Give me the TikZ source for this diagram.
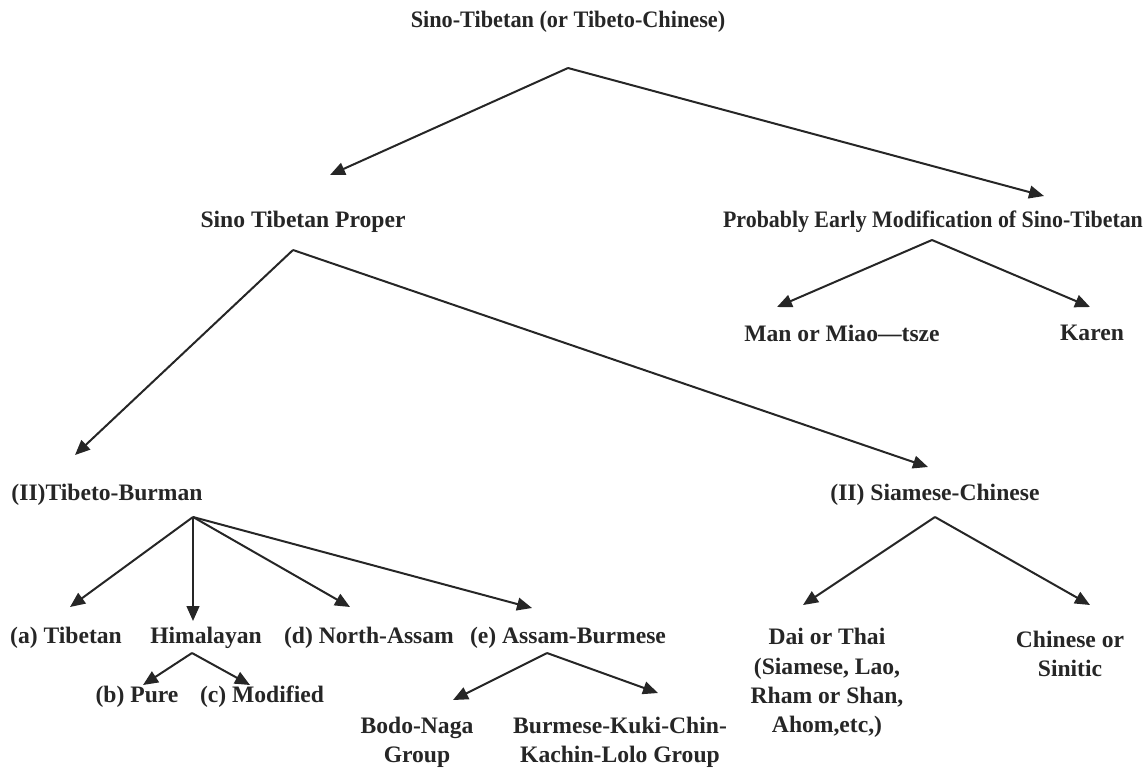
\documentclass[tikz,border=0pt]{standalone}
\usepackage{fontspec}
\setmainfont{Liberation Serif}
\usetikzlibrary{arrows.meta}
\definecolor{ink}{HTML}{262626}
\begin{document}
\begin{tikzpicture}[x=0.5pt,y=-0.5pt,
  lbl/.style={font=\fontsize{11.8}{14.6}\selectfont\bfseries, text=ink, inner sep=0pt, align=center},
  link/.style={draw=ink, line width=1pt, -{Triangle[length=7.5pt,width=6.4pt]}}]
\useasboundingbox (0,0) rectangle (1146,767);

% labels
\node[lbl] (root) at (568,22) {\scalebox{0.943}[1]{Sino-Tibetan (or Tibeto-Chinese)}};
\node[lbl] (stp) at (303,222) {Sino Tibetan Proper};
\node[lbl] (pem) at (933,222) {\scalebox{0.927}[1]{Probably Early Modification of Sino-Tibetan}};
\node[lbl] (man) at (842,333) {Man or Miao---tsze};
\node[lbl] (kar) at (1092,333) {Karen};
\node[lbl] (tb) at (107,495) {(II)Tibeto-Burman};
\node[lbl] (sc) at (935,495) {(II) Siamese-Chinese};
\node[lbl] (tib) at (66,638) {(a) Tibetan};
\node[lbl] (him) at (206,638) {Himalayan};
\node[lbl] (na) at (369,638) {(d) North-Assam};
\node[lbl] (ab) at (568,638) {(e) Assam-Burmese};
\node[lbl] (pure) at (137,697) {(b) Pure};
\node[lbl] (mod) at (262,697) {(c) Modified};
\node[lbl] (bodo) at (417,742) {Bodo-Naga\\Group};
\node[lbl] (bkc) at (620,742) {Burmese-Kuki-Chin-\\Kachin-Lolo Group};
\node[lbl] (dai) at (827,683) {Dai or Thai\\(Siamese, Lao,\\Rham or Shan,\\Ahom,etc,)};
\node[lbl] (chi) at (1070,654) {Chinese or\\Sinitic};

% branch points and arrow tips
\coordinate (rootB) at (568,68);
\coordinate (stpT) at (330,175);
\coordinate (pemT) at (1044,196);
\coordinate (pemB) at (932,240);
\coordinate (manT) at (777,307);
\coordinate (karT) at (1090,307);
\coordinate (stpB) at (293,250);
\coordinate (tbT) at (75,455);
\coordinate (scT) at (928,467);
\coordinate (tbB) at (193,517);
\coordinate (tibT) at (70,607);
\coordinate (himT) at (193,621);
\coordinate (naT) at (350,607);
\coordinate (abT) at (532,608);
\coordinate (himB) at (192,653);
\coordinate (pureT) at (143,685);
\coordinate (modT) at (250,685);
\coordinate (abB) at (547,653);
\coordinate (bodoT) at (453,700);
\coordinate (bkcT) at (658,693);
\coordinate (scB) at (935,517);
\coordinate (daiT) at (803,605);
\coordinate (chiT) at (1090,605);

% connectors
\draw[link] (rootB) -- (stpT);
\draw[link] (rootB) -- (pemT);
\draw[link] (pemB) -- (manT);
\draw[link] (pemB) -- (karT);
\draw[link] (stpB) -- (tbT);
\draw[link] (stpB) -- (scT);
\draw[link] (tbB) -- (tibT);
\draw[link] (tbB) -- (himT);
\draw[link] (tbB) -- (naT);
\draw[link] (tbB) -- (abT);
\draw[link] (himB) -- (pureT);
\draw[link] (himB) -- (modT);
\draw[link] (abB) -- (bodoT);
\draw[link] (abB) -- (bkcT);
\draw[link] (scB) -- (daiT);
\draw[link] (scB) -- (chiT);
\end{tikzpicture}
\end{document}
